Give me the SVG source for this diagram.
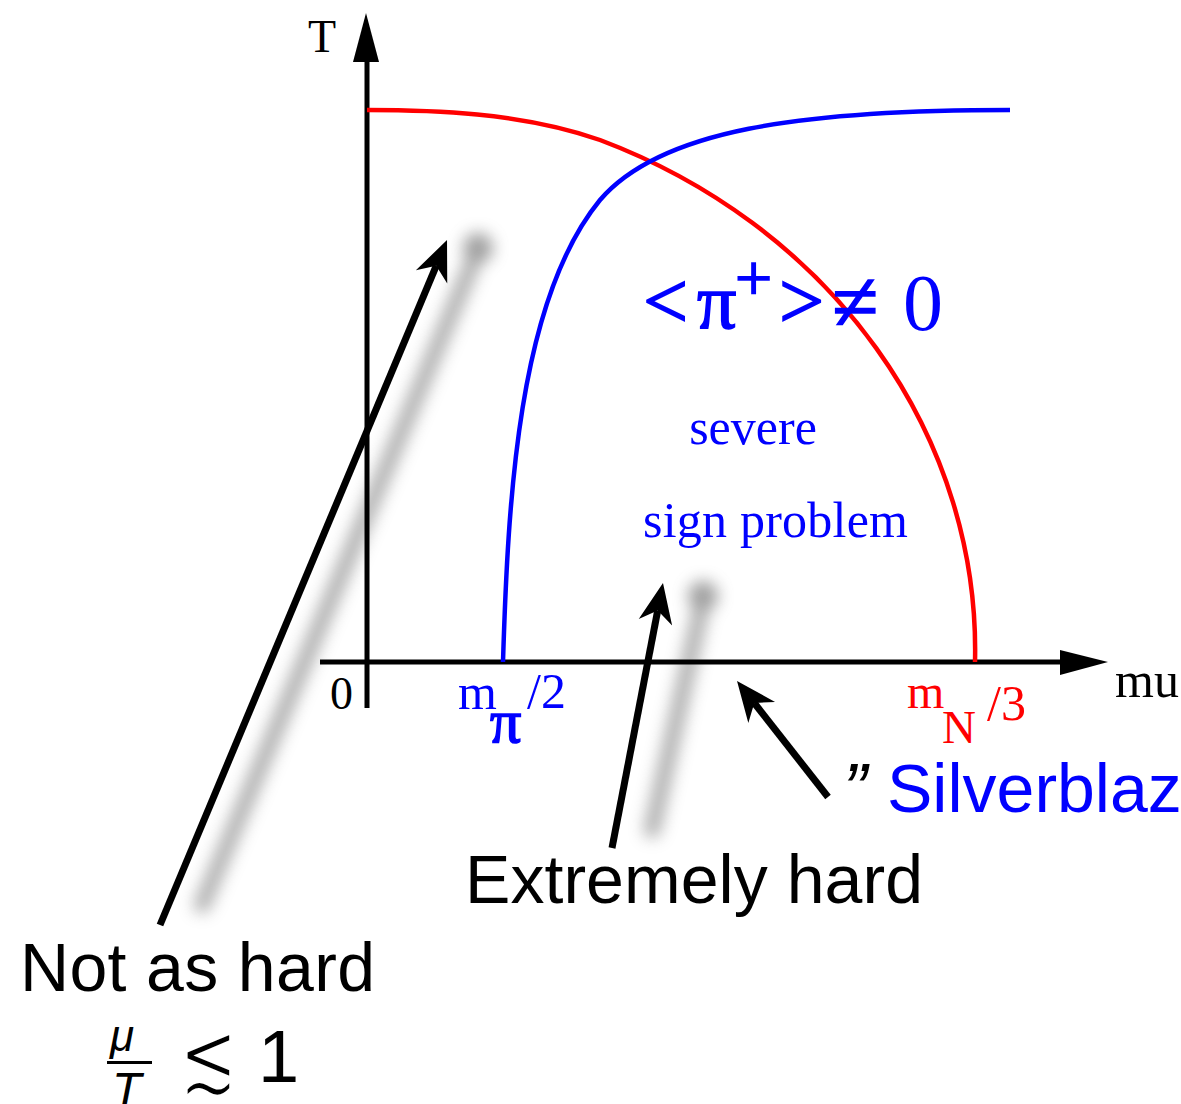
<svg xmlns="http://www.w3.org/2000/svg" width="1181" height="1104" viewBox="0 0 1181 1104">
<style>
.serif{font-family:"Liberation Serif","Times New Roman",serif}
.sans{font-family:"Liberation Sans",Arial,sans-serif}
.blue{fill:#0000ff}
.red{fill:#ff0000}
.blk{fill:#000}
.heavy{stroke:#0000ff;stroke-width:1.6}
.arrow{stroke:#000;stroke-width:7;fill:none;marker-end:url(#head)}
.shadow{stroke:#8a8a8a;stroke-width:16;fill:none;stroke-linecap:round}
</style>
<defs>
<marker id="head" markerUnits="userSpaceOnUse" markerWidth="50" markerHeight="50" viewBox="-5 -25 50 50" refX="12" refY="0" orient="auto">
<path d="M40,0 L0,-17 L12,0 L0,17 Z" fill="#000"/>
</marker>
<filter id="blur" x="-50%" y="-50%" width="200%" height="200%">
<feGaussianBlur stdDeviation="8"/>
</filter>
</defs>
<rect width="1181" height="1104" fill="#fff"/>
<g id="shadows" filter="url(#blur)" opacity="0.7">
<path class="shadow" d="M202,905 L478,250"/>
<circle cx="478" cy="248" r="15" fill="#777"/>
<path class="shadow" d="M652,830 L703,600"/>
<circle cx="703" cy="596" r="15" fill="#777"/>
</g>
<g id="axes">
<path d="M367,708 L367,60" stroke="#000" stroke-width="5" fill="none"/>
<polygon points="366,13 353,62 379,62" fill="#000"/>
<path d="M320,662 L1062,662" stroke="#000" stroke-width="5" fill="none"/>
<polygon points="1108,662 1060,650 1060,675" fill="#000"/>
</g>
<g id="curves">
<path id="red-curve" d="M367,110 C430,110 520,112 600,140 A608,552 0 0 1 975,662" stroke="#ff0000" stroke-width="4.5" fill="none"/>
<path id="blue-curve" d="M503,662 C508,500 518,300 600,200 C660,130 800,110 1010,110" stroke="#0000ff" stroke-width="4.5" fill="none"/>
</g>
<g id="connectors">
<path class="arrow" d="M160,925 L436.2,265.8"/>
<path class="arrow" d="M612,848 L657.7,610.5"/>
<path class="arrow" d="M828,797 L754.3,703"/>
</g>
<g id="axis-labels">
<text class="serif blk" x="308" y="52" font-size="46">T</text>
<text class="serif blk" x="330" y="709" font-size="46">0</text>
<text class="serif blk" x="1115" y="697" font-size="50">mu</text>
<text class="serif blue" x="458" y="709" font-size="50">m</text>
<text class="serif blue heavy" x="490" y="742" font-size="62">π</text>
<text class="serif blue" x="527" y="708" font-size="50">/2</text>
<text class="serif red" x="907" y="708" font-size="48">m</text>
<text class="serif red" x="942" y="743" font-size="47">N</text>
<text class="serif red" x="987" y="720" font-size="50">/3</text>
</g>
<g id="region-labels">
<text class="serif blue heavy" x="643" y="328" font-size="80">&lt;</text>
<text class="serif blue heavy" x="697" y="328" font-size="78">π</text>
<text class="serif blue heavy" x="735" y="300" font-size="66">+</text>
<text class="serif blue heavy" x="779" y="328" font-size="80">&gt;</text>
<text class="serif blue heavy" x="832" y="330" font-size="84">≠</text>
<text class="serif blue" x="903" y="330" font-size="80">0</text>
<text class="serif blue" x="753" y="444" font-size="50" text-anchor="middle">severe</text>
<text class="serif blue" x="643" y="537" font-size="50" textLength="265">sign problem</text>
</g>
<g id="annotations">
<text class="sans blk" x="465" y="903" font-size="68" textLength="458">Extremely hard</text>
<text class="sans blk" x="20" y="991" font-size="68" textLength="355">Not as hard</text>
<text class="sans blk" x="843" y="814" font-size="72" font-style="italic">”</text>
<text class="sans blue" x="887" y="812" font-size="68">Silverblaze</text>
<text class="sans blk" x="110" y="1051" font-size="44" font-style="italic">μ</text>
<rect x="107" y="1061" width="45" height="3" fill="#000"/>
<text class="sans blk" x="112" y="1106" font-size="48" font-style="italic">T</text>
<text x="0" y="0" font-size="70" font-family="DejaVu Sans, sans-serif" fill="#000" stroke="#fff" stroke-width="2.2" transform="translate(179,1092) scale(1,1.45)">≲</text>
<text class="sans blk" x="258" y="1082" font-size="74">1</text>
</g>
</svg>
